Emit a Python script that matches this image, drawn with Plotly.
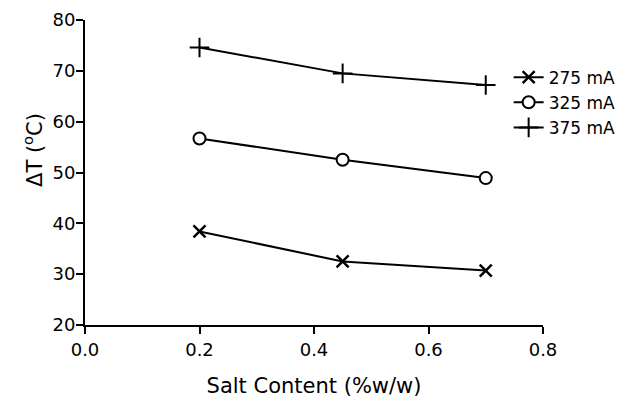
import plotly.graph_objects as go

salt = [0.2, 0.45, 0.7]
dt_275 = [38.4, 32.5, 30.7]
dt_325 = [56.7, 52.5, 48.9]
dt_375 = [74.6, 69.5, 67.2]
labels = ["275 mA", "325 mA", "375 mA"]
x_ticks = [0.0, 0.2, 0.4, 0.6, 0.8]
y_ticks = [20, 30, 40, 50, 60, 70, 80]

FONT = "DejaVu Sans"
fig = go.Figure()
fig.add_trace(go.Scatter(x=salt, y=dt_275, name=labels[0], mode="lines+markers",
                         line=dict(color="black", width=2),
                         marker=dict(symbol="x-thin-open", size=12, color="black",
                                     line=dict(color="black", width=2.5))))
fig.add_trace(go.Scatter(x=salt, y=dt_325, name=labels[1], mode="lines+markers",
                         line=dict(color="black", width=2),
                         marker=dict(symbol="circle", size=12, color="white",
                                     line=dict(color="black", width=2))))
fig.add_trace(go.Scatter(x=salt, y=dt_375, name=labels[2], mode="lines+markers",
                         line=dict(color="black", width=2),
                         marker=dict(symbol="cross-thin-open", size=14, color="black",
                                     line=dict(color="black", width=2))))

fig.update_layout(
    width=644, height=404,
    margin=dict(l=85, r=101, t=20, b=79),
    paper_bgcolor="white", plot_bgcolor="white",
    font=dict(family=FONT, size=18, color="black"),
    showlegend=True,
    legend=dict(x=0.925, y=0.87, xanchor="left", yanchor="top",
                font=dict(family=FONT, size=17, color="black"),
                bgcolor="rgba(0,0,0,0)", tracegroupgap=0),
    xaxis=dict(range=[0, 0.8], tickvals=x_ticks, ticktext=[f"{v:.1f}" for v in x_ticks],
               showgrid=False, zeroline=False, showline=True, linecolor="black", linewidth=2,
               ticks="outside", ticklen=7, tickwidth=2, tickcolor="black", automargin=False,
               tickfont=dict(family=FONT, size=18),
               title=dict(text="Salt Content (%w/w)", font=dict(family=FONT, size=21), standoff=20)),
    yaxis=dict(range=[20, 80], tickvals=y_ticks, automargin=False,
               showgrid=False, zeroline=False, showline=True, linecolor="black", linewidth=2,
               ticks="outside", ticklen=7, tickwidth=2, tickcolor="black",
               ticklabelstandoff=-3,
               tickfont=dict(family=FONT, size=18)),
    annotations=[dict(text="ΔT (<sup>o</sup>C)", textangle=-90, xref="paper", yref="paper",
                      x=-0.115, y=0.575, xanchor="center", yanchor="middle", showarrow=False,
                      font=dict(family=FONT, size=21, color="black"))],
)

fig.write_html("out.html")
